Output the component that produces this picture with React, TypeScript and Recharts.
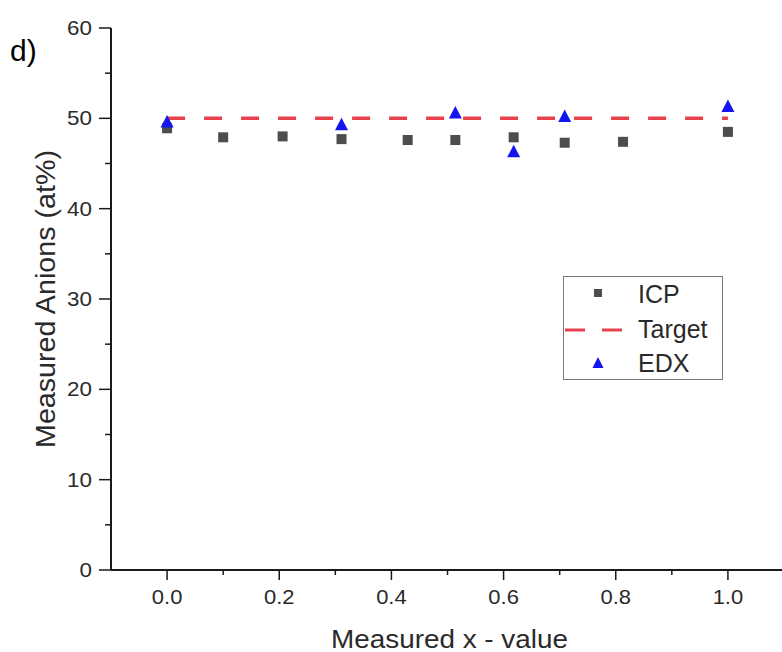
import React from 'react';
import { ScatterChart, Scatter, XAxis, YAxis, Legend, Label } from 'recharts';

// ---- data ----
const icpX = [0, 0.1, 0.206, 0.311, 0.429, 0.514, 0.618, 0.709, 0.813, 1.0];
const icpY = [48.9, 47.9, 48.0, 47.7, 47.6, 47.6, 47.9, 47.3, 47.4, 48.5];
const edxX = [0, 0.311, 0.514, 0.618, 0.709, 1.0];
const edxY = [49.6, 49.3, 50.6, 46.3, 50.2, 51.3];
const targetX = [0, 1.0];
const targetY = [50, 50];
const xMajorTicks = [0, 0.2, 0.4, 0.6, 0.8, 1.0];
const xMinorTicks = [0.1, 0.3, 0.5, 0.7, 0.9];
const yMajorTicks = [0, 10, 20, 30, 40, 50, 60];
const yMinorTicks = [5, 15, 25, 35, 45, 55];
const seriesNames = ['ICP', 'Target', 'EDX'];
const xTitle = 'Measured x - value';
const yTitle = 'Measured Anions (at%)';
const panelLabel = 'd)';

const icpData = icpX.map((x, i) => ({ x, y: icpY[i] }));
const edxData = edxX.map((x, i) => ({ x, y: edxY[i] }));
const targetData = targetX.map((x, i) => ({ x, y: targetY[i] }));

const FONT = '"Liberation Sans", Arial, Helvetica, sans-serif';
const ICP_COLOR = '#4d4d4d';
const EDX_COLOR = '#1414ee';
const TARGET_COLOR = '#e8414e';
const AXIS_COLOR = '#1a1a1a';
const TEXT_COLOR = '#2a2a2a';

const isIn = (arr: number[], v: number) => arr.some((t) => Math.abs(t - v) < 1e-6);

const XTick = (props: any) => {
  const { x, y, payload } = props;
  const v = payload.value as number;
  const major = isIn(xMajorTicks, v);
  return (
    <g>
      <line x1={x} x2={x} y1={y} y2={y + (major ? 10 : 5)} stroke={AXIS_COLOR} strokeWidth={1.5} />
      {major && (
        <text
          transform={`translate(${x},${y + 34}) scale(1.1,1)`}
          textAnchor="middle"
          fontSize={20}
          fill={TEXT_COLOR}
          fontFamily={FONT}
        >
          {v.toFixed(1)}
        </text>
      )}
    </g>
  );
};

const YTick = (props: any) => {
  const { x, y, payload } = props;
  const v = payload.value as number;
  const major = isIn(yMajorTicks, v);
  return (
    <g>
      <line x1={x - (major ? 12 : 6)} x2={x} y1={y} y2={y} stroke={AXIS_COLOR} strokeWidth={1.5} />
      {major && (
        <text
          transform={`translate(${x - 19},${y + 7}) scale(1.12,1)`}
          textAnchor="end"
          fontSize={20}
          fill={TEXT_COLOR}
          fontFamily={FONT}
        >
          {String(v)}
        </text>
      )}
    </g>
  );
};

const Square = (props: any) => {
  const { cx, cy } = props;
  if (cx == null || cy == null) return <g />;
  return <rect x={cx - 5} y={cy - 5} width={10} height={10} fill={ICP_COLOR} />;
};

const Triangle = (props: any) => {
  const { cx, cy } = props;
  if (cx == null || cy == null) return <g />;
  return <path d={`M${cx},${cy - 7} L${cx + 6.5},${cy + 5.5} L${cx - 6.5},${cy + 5.5} Z`} fill={EDX_COLOR} />;
};

const Empty = () => <g />;

const renderLegend = () => (
  <svg width={160} height={104} style={{ display: 'block' }}>
    <rect x={0.5} y={0.5} width={159} height={103} fill="#fff" stroke="#7a7a7a" strokeWidth={1} />
    <rect x={31} y={13} width={8} height={8} fill={ICP_COLOR} />
    <text x={75} y={27} fontSize={25} fontFamily={FONT} fill={TEXT_COLOR}>{seriesNames[0]}</text>
    <line x1={2} x2={60} y1={54} y2={54} stroke={TARGET_COLOR} strokeWidth={3} strokeDasharray="20 17" />
    <text x={75} y={62} fontSize={25} fontFamily={FONT} fill={TEXT_COLOR}>{seriesNames[1]}</text>
    <path d="M35,81 L40.5,92 L29.5,92 Z" fill={EDX_COLOR} />
    <text x={75} y={96} fontSize={25} fontFamily={FONT} fill={TEXT_COLOR}>{seriesNames[2]}</text>
  </svg>
);

const XTitle = (props: any) => {
  const vb = props.viewBox || {};
  const cx = (vb.x ?? 111) + (vb.width ?? 673) / 2;
  const by = (vb.y ?? 570) + 78;
  return (
    <text x={cx + 2} y={by} textAnchor="middle" fontSize={25} fontFamily={FONT} fill={TEXT_COLOR}
      textLength={237} lengthAdjust="spacingAndGlyphs">
      {xTitle}
    </text>
  );
};

const YTitle = (props: any) => {
  const vb = props.viewBox || {};
  const cy = (vb.y ?? 28) + (vb.height ?? 542) / 2;
  const bx = 55;
  return (
    <text transform={`translate(${bx},${cy}) rotate(-90)`} x={0} y={0} textAnchor="middle" fontSize={28}
      fontFamily={FONT} fill={TEXT_COLOR} textLength={298} lengthAdjust="spacingAndGlyphs">
      {yTitle}
    </text>
  );
};

export default function App() {
  return (
    <div style={{ position: 'absolute', left: 0, top: 0, width: 782, height: 652, overflow: 'hidden', background: '#fff' }}>
      <div style={{ position: 'absolute', left: 10, top: 33, fontFamily: FONT, fontSize: 30, color: '#000', lineHeight: '36px', zIndex: 2 }}>
        {panelLabel}
      </div>
      <ScatterChart width={800} height={652} margin={{ top: 28, right: 16, bottom: 0, left: 0 }}>
        <XAxis
          type="number"
          dataKey="x"
          domain={[-0.1, 1.1]}
          ticks={[...xMajorTicks, ...xMinorTicks].sort((a, b) => a - b)}
          interval={0}
          tickSize={0}
          tickMargin={0}
          tickLine={false}
          tick={<XTick />}
          axisLine={{ stroke: AXIS_COLOR, strokeWidth: 2 }}
          height={82}
          allowDataOverflow
        >
          <Label content={<XTitle />} />
        </XAxis>
        <YAxis
          type="number"
          dataKey="y"
          domain={[0, 60]}
          ticks={[...yMajorTicks, ...yMinorTicks].sort((a, b) => a - b)}
          interval={0}
          tickSize={0}
          tickMargin={0}
          tickLine={false}
          tick={<YTick />}
          axisLine={{ stroke: AXIS_COLOR, strokeWidth: 2 }}
          width={111}
          allowDataOverflow
        >
          <Label content={<YTitle />} />
        </YAxis>
        <Legend
          layout="vertical"
          align="center"
          verticalAlign="middle"
          content={renderLegend}
          wrapperStyle={{ left: 563, top: 276, width: 160, height: 104 }}
        />
        <Scatter
          name={seriesNames[1]}
          data={targetData}
          line={{ stroke: TARGET_COLOR, strokeWidth: 3.5, strokeDasharray: '18 19' }}
          shape={<Empty />}
          fill={TARGET_COLOR}
          isAnimationActive={false}
        />
        <Scatter name={seriesNames[0]} data={icpData} shape={<Square />} fill={ICP_COLOR} isAnimationActive={false} />
        <Scatter name={seriesNames[2]} data={edxData} shape={<Triangle />} fill={EDX_COLOR} isAnimationActive={false} />
      </ScatterChart>
    </div>
  );
}
